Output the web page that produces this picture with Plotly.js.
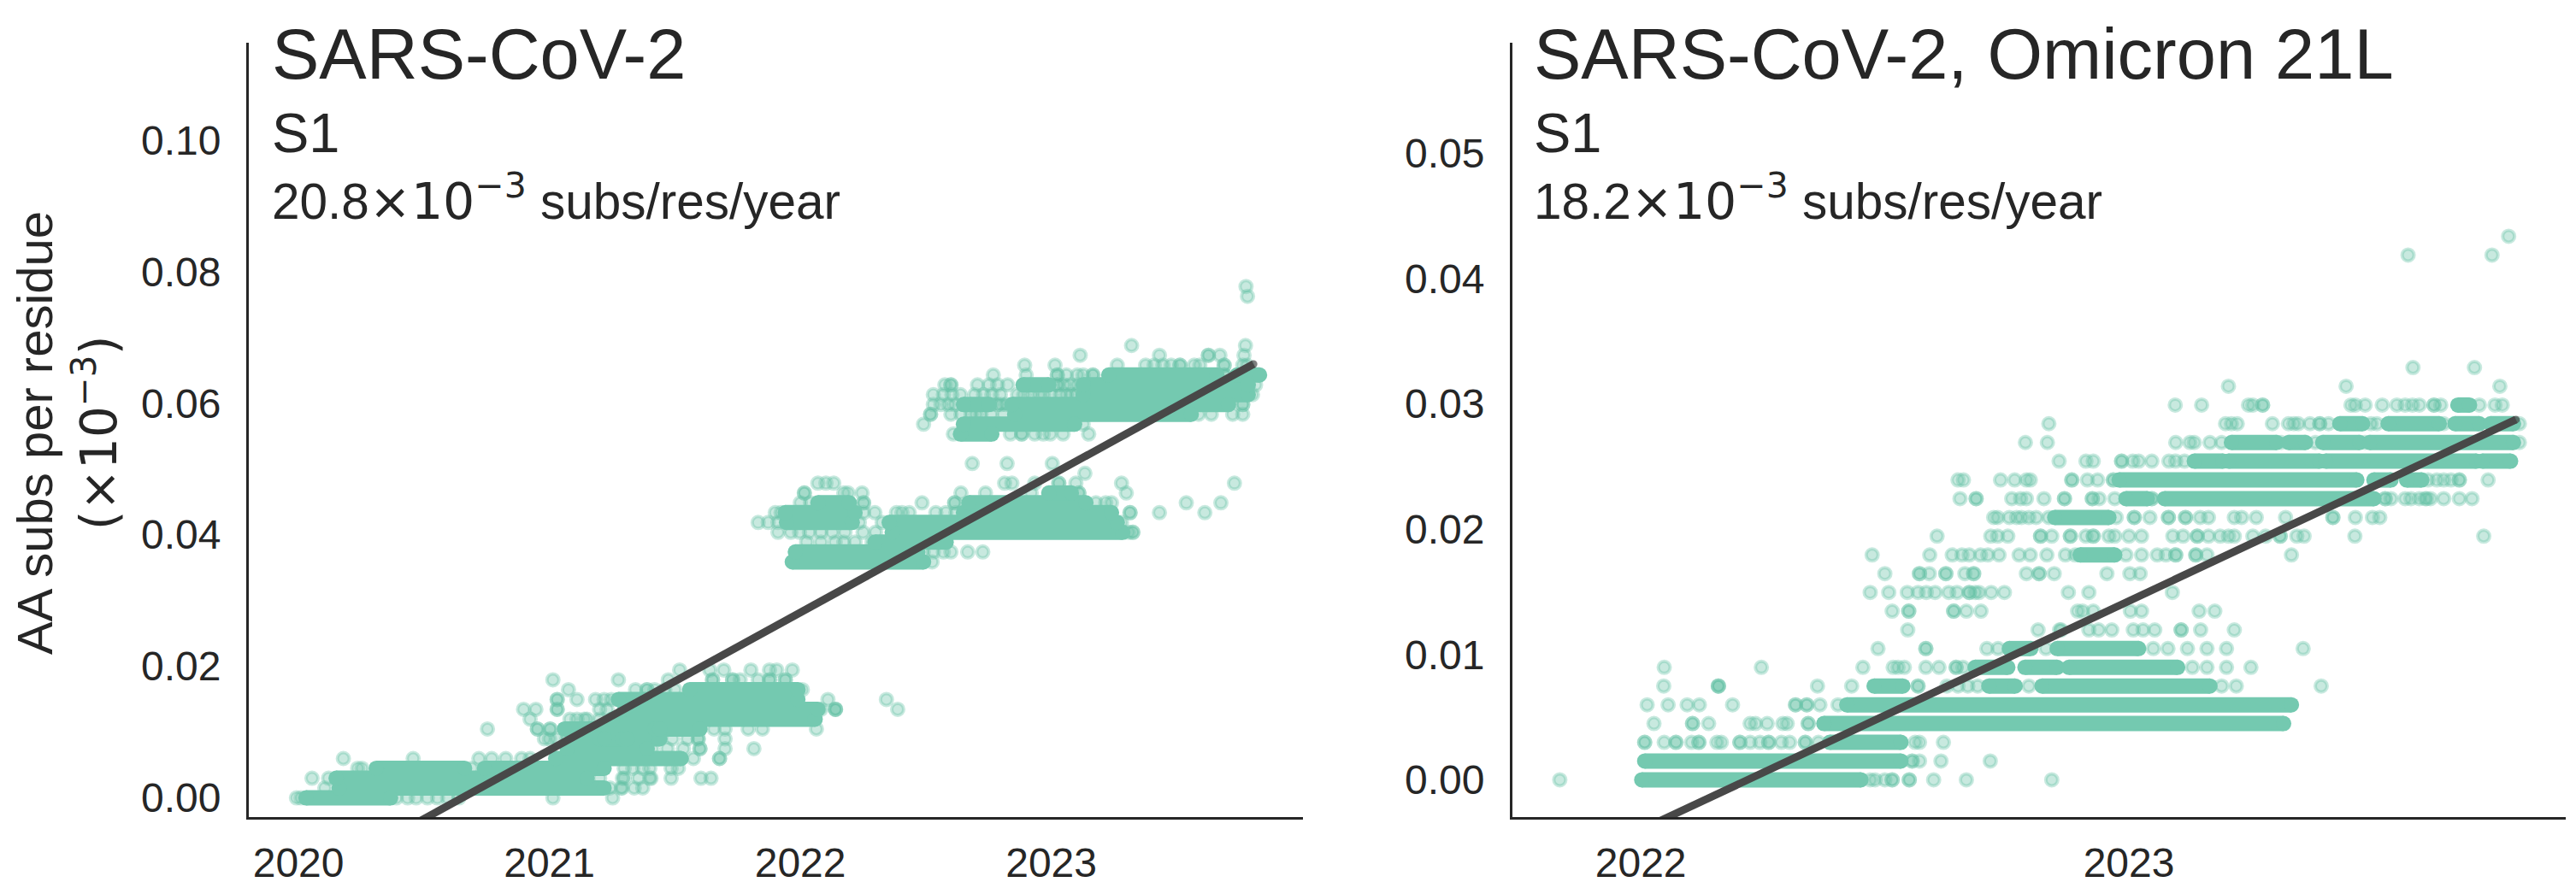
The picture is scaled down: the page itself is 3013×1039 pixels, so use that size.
<!DOCTYPE html>
<html><head><meta charset="utf-8">
<script src="https://cdn.plot.ly/plotly-3.0.1.min.js"></script>
<style>html,body{margin:0;padding:0;background:#fff;overflow:hidden}</style>
</head><body><div id="chart" style="width:3013px;height:1039px"></div>
<script>
// AA substitutions per residue: the values are quantised to whole substitutions
const subsRows=[0,.0015,.00299,.00449,.00598,.00748,.00897,.01047,.01196,.01346,.01495,.01645,.01794,.01944,.02093,.02243,.02392,.02542,.02691,.02841,.0299,.0314,.03289,.03439,.03588,.03738,.03887,.04037,.04186,.04336,.04485,.04635,.04784,.04934,.05083,.05233,.05382,.05532,.05681,.05831,.0598,.0613,.06279,.06429,.06578,.06728,.06877,.07027,.07176,.07326,.07475,.07625,.07774];

// Panel 1: dates are years since 2020. Dots: [row, dates]. Runs: [row, from, to] where samples overlap solidly.
const sarsDots=[
[0,[-.008,.01,.39,.435,.469,.514,.554,.594,.639,1.014,1.252]],
[1,[.105,1.241,1.286,1.29,1.338,1.372]],
[2,[.054,.12,1.2,1.291,1.298,1.355,1.4,1.405,1.485,1.604,1.644]],
[3,[.236,.253,.446,.446,.565,.69,1.298,1.332,1.372,1.4,1.485,1.514]],
[4,[.179,.457,.719,.77,.826,.889,.923,1.574,1.678,1.678]],
[5,[1.41,1.47,1.534,1.6,1.6,1.7,1.815]],
[6,[.98,1.0,1.03,1.07,1.49,1.55,1.593,1.593,1.7]],
[7,[.753,.952,.952,1.003,1.003,1.656,1.7,1.792,1.849,2.064]],
[8,[.923,1.082,1.11,1.139,1.15,1.2]],
[9,[.897,.946,1.031,1.031,1.2,1.23,2.082,2.14,2.14,2.14,2.388]],
[10,[1.031,1.031,1.11,1.184,1.218,1.247,2.11,2.343]],
[11,[1.076,1.343,1.389,1.389,1.42,1.46,1.5,2.008]],
[12,[1.014,1.275,1.474,1.65,1.65,1.73,1.73,1.76,1.832,1.877,1.877,1.94,1.94]],
[13,[1.519,1.639,1.695,1.803,1.877,1.906,1.968]],
[24,[2.525]],
[25,[2.49,2.53,2.57,2.6,2.667,2.727]],
[26,[2.025,2.082,2.139,2.173,2.218,2.286]],
[27,[1.911,1.962,1.997,2.036,2.082,2.127,2.178,2.25,2.3,3.308,3.325,3.325]],
[28,[1.832,1.872,1.911,2.235,2.326,3.28]],
[29,[1.9,1.923,2.252,2.297,2.383,2.405,2.434,2.54,2.58,2.62,3.314,3.314,3.431,3.612]],
[30,[2.0,2.04,2.252,2.252,2.485,2.615,2.615,3.178,3.217,3.24,3.538,3.676]],
[31,[2.016,2.016,2.173,2.19,2.246,2.64,2.738,2.92,3.11,3.11,3.299]],
[32,[2.07,2.102,2.133,2.814,2.843,2.934,3.03,3.03,3.098,3.28,3.73]],
[33,[3.134]],
[34,[2.685,2.824,3.004]],
[37,[2.61,2.837,2.882,2.882,2.934,2.968,2.996,3.047,3.149]],
[38,[2.491,3.127]],
[39,[2.519,2.519,2.6,2.64,2.68,2.7,2.72,2.76,2.81,3.587,3.638,3.723,3.763]],
[40,[2.53,2.56,2.59,2.616,2.76,2.786,2.8,2.82,3.763,3.763]],
[41,[2.53,2.57,2.604,2.638,2.695,2.73,2.763,2.797,2.865,2.89,2.92,2.95,2.97,3.0,3.035,3.06,3.08,3.1,3.802]],
[42,[2.576,2.6,2.6,2.706,2.752,2.786,2.826,3.024,3.024,3.05,3.075,3.104,3.814]],
[43,[2.769,2.9,3.024,3.024,3.06,3.104,3.127,3.166,3.166,3.69,3.69]],
[44,[2.894,3.015,3.263,3.376,3.41,3.445,3.478,3.513,3.513,3.57,3.592,3.689,3.689,3.763,3.78]],
[45,[3.115,3.431,3.626,3.626,3.672,3.768]],
[46,[3.32,3.774]],
[51,[3.782]],
[52,[3.776]]
];
const sarsRuns=[
[0,.03,.367],[1,.162,1.218],[2,.15,1.15],[3,.31,.662],[3,.741,1.218],[4,1.025,1.525],
[5,1.071,1.39],[6,1.09,1.2],[6,1.22,1.29],[6,1.31,1.44],[7,1.06,1.42],[7,1.44,1.6],
[8,1.25,2.059],[9,1.3,2.07],[10,1.275,1.99],[11,1.559,1.991],
[24,1.968,2.491],[25,1.98,2.468],[26,2.298,2.581],[27,2.366,3.285],[28,1.945,2.207],[28,2.354,3.263],
[29,1.94,2.218],[29,2.65,3.24],[30,2.07,2.195],[30,2.672,3.138],[31,2.99,3.08],
[37,2.638,2.763],[38,2.65,3.093],[39,2.854,3.558],[40,2.65,2.752],[40,2.843,3.706],
[41,3.127,3.785],[42,2.888,2.99],[42,3.127,3.785],[43,3.229,3.66],[43,3.74,3.83]
];
const sarsFitX=[.45,3.806];
const sarsFitY=[-.00424,.06595];

// Panel 2: dates are years since 2022.
const omicronDots=[
[0,[-.166,.47,.48,.5,.515,.515,.55,.55,.6,.667,.842]],
[1,[.556,.556,.571,.615,.716]],
[2,[.008,.008,.048,.072,.072,.104,.119,.119,.156,.165,.203,.203,.224,.244,.262,.262,.288,.305,.337,.337,.364,.562,.571,.62]],
[3,[.027,.106,.106,.139,.224,.235,.259,.291,.3,.343,.343]],
[4,[.013,.056,.095,.12,.188,.317,.317,.34,.34,.367,.404]],
[5,[.047,.159,.159,.159,.362,.432,.568,.568,.627,.65,.67,.69,.795,1.19,1.22,1.394]],
[6,[.048,.247,.455,.517,.527,.54,.584,.611,.646,.646,.66,1.13,1.16,1.2,1.25]],
[7,[.486,.584,.584,.709,.732,.83,1.05,1.08,1.12,1.16,1.2,1.357]],
[8,[.547,.814,.858,.861,.918,.938,.965,1.009,1.029,1.053,1.107,1.107,1.147,1.216]],
[9,[.515,.549,.549,.641,.641,.667,.697,.895,.905,.927,1.003,1.026,1.144,1.176]],
[10,[.47,.508,.546,.568,.585,.603,.631,.648,.673,.673,.685,.693,.718,.745,.876,.918,1.089]],
[11,[.5,.571,.571,.591,.625,.625,.664,.682,.682,.79,.816,.816,.847,.955,1.002,1.023]],
[12,[.474,.592,.638,.658,.673,.696,.711,.734,.775,.798,.832,.87,.89,.994,1.026,1.058,1.076,1.096,1.096,1.137,1.137,1.16,1.333]],
[13,[.607,.717,.731,.752,.819,.819,.842,.88,.88,.912,.927,.927,.959,.971,1.0,1.026,1.09,1.111,1.14,1.14,1.163,1.187,1.204,1.216,1.254,1.28,1.31,1.31,1.344,1.359,1.463,1.727]],
[14,[.723,.731,.755,.77,.78,.795,.81,.836,.974,1.011,1.011,1.043,1.081,1.081,1.116,1.116,1.146,1.163,1.216,1.231,1.261,1.321,1.418,1.418,1.464,1.499,1.514]],
[15,[.654,.687,.687,.76,.778,.79,.826,.868,.868,.925,.925,.939,.971,1.047,1.047,1.525,1.525,1.537,1.566,1.578,1.595,1.607,1.61,1.618,1.645,1.677,1.703]],
[16,[.65,.661,.737,.766,.79,.798,.883,.883,.915,.936,.968,.968,1.613,1.631,1.645,1.66,1.677,1.677,1.736]],
[17,[.857,.912,.927,.985,.985,1.008,1.02,1.047,1.082,1.096,1.114]],
[18,[.788,.833,1.096,1.125,1.134,1.166,1.19,1.312,1.382,1.484,1.8]],
[19,[.836,1.198,1.21,1.222,1.294,1.327,1.338,1.347,1.371,1.391,1.391,1.409,1.496,1.508,1.645,1.8]],
[20,[1.095,1.149,1.245,1.254,1.274,1.274,1.455,1.464,1.484,1.519,1.549,1.566,1.581,1.595,1.625,1.625,1.639,1.718,1.75,1.765]],
[21,[1.204,1.445,1.76]],
[22,[1.582,1.708]],
[28,[1.572,1.744]],
[29,[1.778]]
];
const omicronRuns=[
[0,.002,.451],[1,.008,.533],[2,.387,.533],[3,.375,1.317],[4,.422,1.333],
[5,.478,.537],[5,.713,.767],[5,.822,1.166],[6,.685,.752],[6,.787,.853],[6,.877,1.1],
[7,.755,.799],[7,.853,1.02],[12,.9,.971],[14,.848,.959],[15,.994,1.038],[15,1.073,1.502],
[16,.98,1.467],[16,1.502,1.537],[16,1.569,1.6],
[17,1.134,1.193],[17,1.204,1.391],[17,1.403,1.712],[17,1.724,1.782],
[18,1.21,1.303],[18,1.327,1.362],[18,1.397,1.473],[18,1.493,1.788],
[19,1.432,1.479],[19,1.531,1.636],[19,1.668,1.718],[19,1.741,1.788],[20,1.674,1.698]
];
const omicronFitX=[.02,1.793];
const omicronFitY=[-.00363,.02874];

const sarsYearTicks=[0,1,2,3], sarsYearLabels=['2020','2021','2022','2023'];
const omicronYearTicks=[0,1], omicronYearLabels=['2022','2023'];
const sarsYTicks=[0,.02,.04,.06,.08,.1], sarsYLabels=['0.00','0.02','0.04','0.06','0.08','0.10'];
const omicronYTicks=[0,.01,.02,.03,.04,.05], omicronYLabels=['0.00','0.01','0.02','0.03','0.04','0.05'];

const W=3013,H=1039;
const INK='#262626', DOT='rgba(102,194,165,0.36)', SOLID='#74c9b0', FIT='#484848';
const FONT='"Liberation Sans", Arial, sans-serif';

function panelTraces(dots,runs,fitX,fitY,xa,ya){
  const dx=[],dy=[];
  dots.forEach(([r,xs])=>xs.forEach(x=>{dx.push(x);dy.push(subsRows[r]);}));
  const rx=[],ry=[];
  runs.forEach(([r,a,b])=>{rx.push(a,b,null);ry.push(subsRows[r],subsRows[r],null);});
  return [
    {type:'scatter',mode:'markers',x:dx,y:dy,xaxis:xa,yaxis:ya,showlegend:false,hoverinfo:'skip',
     marker:{size:14,color:DOT,line:{color:DOT,width:4}}},
    {type:'scatter',mode:'lines+markers',x:rx,y:ry,xaxis:xa,yaxis:ya,showlegend:false,hoverinfo:'skip',
     line:{color:SOLID,width:18},marker:{size:18,color:SOLID,line:{width:0}}},
    {type:'scatter',mode:'lines+markers',x:fitX,y:fitY,xaxis:xa,yaxis:ya,showlegend:false,hoverinfo:'skip',
     line:{color:FIT,width:9},marker:{size:[0,9],color:FIT,line:{width:0}}}
  ];
}

function xAxis(l,r,range,vals,text,anchor){
  return {domain:[l/W,r/W],range:range,anchor:anchor,tickmode:'array',tickvals:vals,ticktext:text,
    showgrid:false,zeroline:false,showline:true,linecolor:INK,linewidth:3,ticks:'',ticklabelstandoff:9,
    tickfont:{family:FONT,size:48,color:INK}};
}
function yAxis(range,vals,text,anchor){
  return {domain:[(H-956)/H,(H-50)/H],range:range,anchor:anchor,tickmode:'array',tickvals:vals,ticktext:text,
    showgrid:false,zeroline:false,showline:true,linecolor:INK,linewidth:3,ticks:'',ticklabelstandoff:20,
    tickfont:{family:FONT,size:48,color:INK}};
}
function note(px,baselineMid,text,size){
  return {xref:'paper',yref:'paper',x:px/W,y:(H-baselineMid)/H,xanchor:'left',yanchor:'middle',showarrow:false,
    align:'left',text:text,font:{family:FONT,size:size,color:INK},borderpad:0};
}
const MATH='<span style="font-family:\'DejaVu Sans\'">';
const layout={width:W,height:H,autosize:false,margin:{l:0,r:0,t:0,b:0,pad:0},paper_bgcolor:'#fff',plot_bgcolor:'#fff',showlegend:false,
  xaxis:xAxis(291,1524,[-.198,4.003],sarsYearTicks,sarsYearLabels,'y'),
  yaxis:yAxis([-.00292,.1148],sarsYTicks,sarsYLabels,'x'),
  xaxis2:xAxis(1769,3001,[-.263,1.895],omicronYearTicks,omicronYearLabels,'y2'),
  yaxis2:yAxis([-.00297,.0588],omicronYTicks,omicronYLabels,'x2'),
  annotations:[
    {xref:'paper',yref:'paper',x:79/W,y:(H-507)/H,xanchor:'center',yanchor:'middle',showarrow:false,textangle:-90,align:'center',
     text:'AA subs per residue<br>'+MATH+'(×10<sup>−3</sup>)</span>',font:{family:FONT,size:58,color:INK},borderpad:0},
    note(317,63,'SARS-CoV-2',83),
    note(317,155,'S1',65),
    note(317,232,'20.8'+MATH+'×10<sup>−3</sup></span> subs/res/year',58.5),
    note(1793,63,'SARS-CoV-2, Omicron 21L',83),
    note(1793,155,'S1',65),
    note(1793,232,'18.2'+MATH+'×10<sup>−3</sup></span> subs/res/year',58.5)
  ]};
const data=[].concat(
  panelTraces(sarsDots,sarsRuns,sarsFitX,sarsFitY,'x','y'),
  panelTraces(omicronDots,omicronRuns,omicronFitX,omicronFitY,'x2','y2'));
Plotly.newPlot('chart',data,layout,{displayModeBar:false,staticPlot:true});
</script></body></html>
